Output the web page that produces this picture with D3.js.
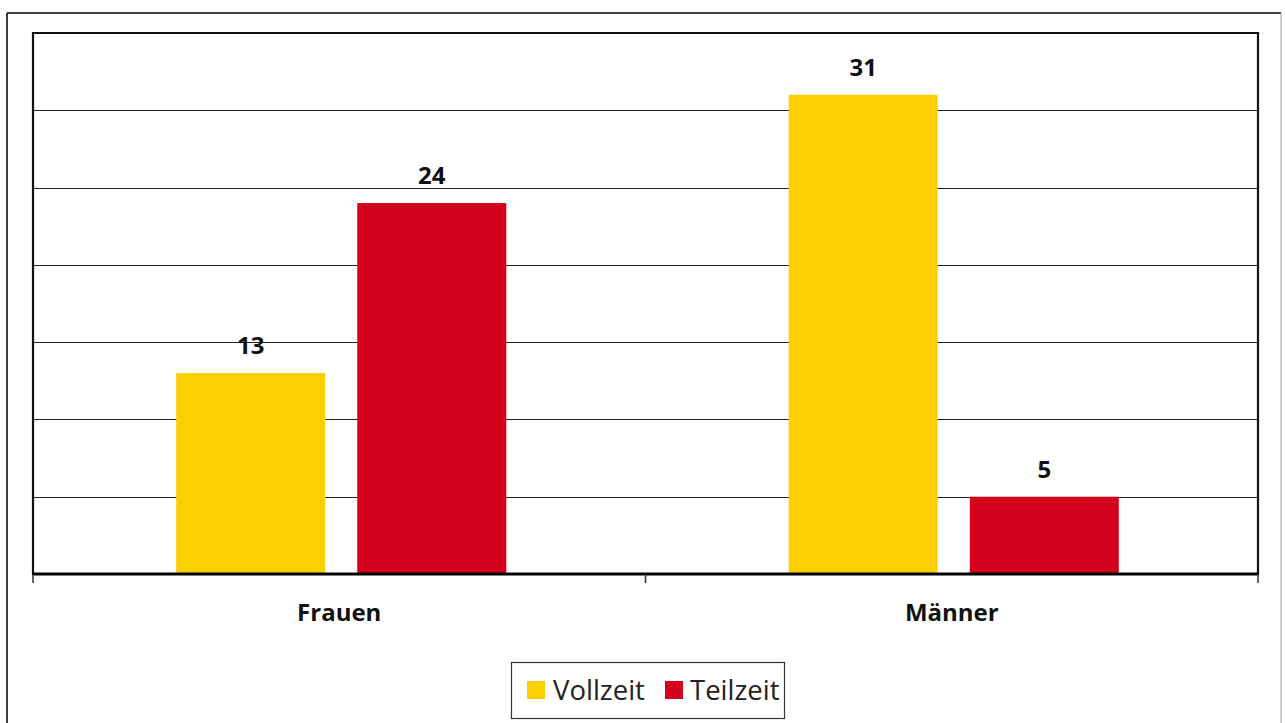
<!DOCTYPE html>
<html>
<head>
<meta charset="utf-8">
<script src="https://cdn.jsdelivr.net/npm/d3@7"></script>
<style>
  html, body { margin: 0; padding: 0; background: #fff; }
  svg { display: block; font-family: "Open Sans", "Noto Sans", sans-serif; }
</style>
</head>
<body>
<div id="chart"></div>
<script>
// data
const categories = ['Frauen', 'Männer'];
const seriesNames = ['Vollzeit', 'Teilzeit'];
const vollzeit = [13, 31];
const teilzeit = [24, 5];
const yTicks = [0, 5, 10, 15, 20, 25, 30, 35];
const colors = ['#FCCF00', '#D2001A'];

const W = 1285, H = 723;
const plot = {left: 33, top: 33, right: 1258, bottom: 574};

const svg = d3.select('#chart').append('svg')
  .attr('width', W).attr('height', H);

// outer frame
svg.append('line').attr('x1', 7).attr('x2', 1281).attr('y1', 13).attr('y2', 13)
  .attr('stroke', '#000').attr('stroke-width', 1.5);
svg.append('line').attr('x1', 7).attr('x2', 7).attr('y1', 13).attr('y2', H)
  .attr('stroke', '#000').attr('stroke-width', 1.5);
svg.append('line').attr('x1', 1281).attr('x2', 1281).attr('y1', 13).attr('y2', H)
  .attr('stroke', '#999').attr('stroke-width', 1);

const x0 = d3.scaleBand().domain(categories).range([plot.left, plot.right]).padding(0);
const x1 = d3.scaleBand().domain(seriesNames).range([2, x0.bandwidth() + 2])
  .paddingInner(0.177).paddingOuter(0.78);
const y = d3.scaleLinear().domain([0, 35]).range([plot.bottom, plot.top]);

// gridlines
svg.append('g').selectAll('line').data(yTicks.slice(1)).join('line')
  .attr('x1', plot.left).attr('x2', plot.right)
  .attr('y1', d => Math.round(y(d)) + 0.5).attr('y2', d => Math.round(y(d)) + 0.5)
  .attr('stroke', '#222').attr('stroke-width', 1);

// plot border (top, right, left)
svg.append('path')
  .attr('d', `M${plot.left},${plot.bottom}V${plot.top}H${plot.right}V${plot.bottom}`)
  .attr('fill', 'none').attr('stroke', '#111').attr('stroke-width', 2.2);

const rows = categories.map((c, i) => ({cat: c, values: [vollzeit[i], teilzeit[i]]}));

const groups = svg.append('g').selectAll('g').data(rows).join('g')
  .attr('transform', d => `translate(${x0(d.cat)},0)`);

groups.selectAll('rect').data(d => d.values.map((v, j) => ({s: seriesNames[j], v, j}))).join('rect')
  .attr('x', d => x1(d.s)).attr('width', x1.bandwidth())
  .attr('y', d => y(d.v)).attr('height', d => y(0) - y(d.v))
  .attr('fill', d => colors[d.j]);

groups.selectAll('text').data(d => d.values.map((v, j) => ({s: seriesNames[j], v, j}))).join('text')
  .attr('x', d => x1(d.s) + x1.bandwidth() / 2)
  .attr('y', d => y(d.v) - 19)
  .attr('text-anchor', 'middle')
  .attr('font-size', 24).attr('font-weight', 'bold').attr('fill', '#111')
  .text(d => d.v);

// x axis
const xAxis = svg.append('g').attr('transform', `translate(0,${plot.bottom})`);
xAxis.append('line').attr('x1', plot.left - 1).attr('x2', plot.right + 1)
  .attr('stroke', '#000').attr('stroke-width', 3);
xAxis.selectAll('line.tick').data([plot.left, x0('Männer'), plot.right]).join('line')
  .attr('class', 'tick')
  .attr('x1', d => d).attr('x2', d => d).attr('y1', 0).attr('y2', 9)
  .attr('stroke', '#333').attr('stroke-width', 1.5);
xAxis.selectAll('text').data(categories).join('text')
  .attr('x', d => x0(d) + x0.bandwidth() / 2).attr('y', 47)
  .attr('text-anchor', 'middle')
  .attr('font-size', 24).attr('font-weight', 'bold').attr('fill', '#111')
  .text(d => d);

// legend
const lg = svg.append('g').attr('transform', 'translate(511,662)');
lg.append('rect').attr('x', 0.5).attr('y', 0.5).attr('width', 273).attr('height', 56)
  .attr('fill', '#fff').attr('stroke', '#333').attr('stroke-width', 1.2);
const items = [{name: seriesNames[0], x: 16, tx: 42}, {name: seriesNames[1], x: 154, tx: 179}];
items.forEach((it, i) => {
  lg.append('rect').attr('x', it.x).attr('y', 19).attr('width', 18).attr('height', 18)
    .attr('fill', colors[i]);
  lg.append('text').attr('x', it.tx).attr('y', 38)
    .attr('font-size', 27.5).attr('fill', '#222').text(it.name);
});
</script>
</body>
</html>
